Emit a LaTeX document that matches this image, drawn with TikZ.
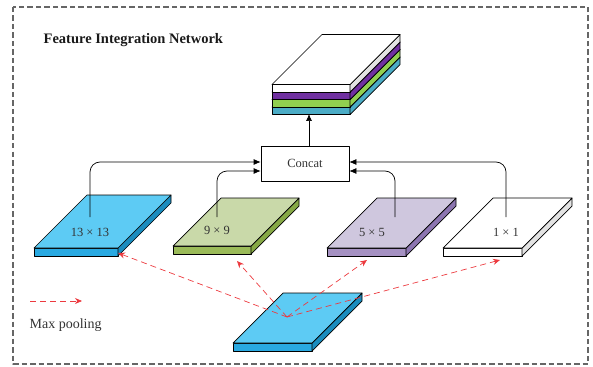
\documentclass[tikz,border=0pt]{standalone}
\usepackage{fontspec}
\setmainfont{Liberation Serif}
\usetikzlibrary{arrows.meta}
\definecolor{bluetop}{HTML}{5DCBF4}
\definecolor{bluefront}{HTML}{29A9E1}
\definecolor{blueside}{HTML}{1A8CBE}
\definecolor{greentop}{HTML}{C9D9A9}
\definecolor{greenfront}{HTML}{9BBB59}
\definecolor{greenside}{HTML}{86A845}
\definecolor{purpletop}{HTML}{CFC7DE}
\definecolor{purplefront}{HTML}{A591C2}
\definecolor{purpleside}{HTML}{8C75B0}
\definecolor{whiteside}{HTML}{E3E3E3}
\definecolor{layerpurple}{HTML}{7030A0}
\definecolor{layergreen}{HTML}{92D050}
\definecolor{layerblue}{HTML}{4BACC6}
\definecolor{poolred}{HTML}{EC3A3F}
% slab: x, y (top of front face), width, depth, thickness, top, front, side
\newcommand{\slab}[8]{%
\filldraw[fill=#7] (#1,#2) rectangle ++(#3,#5);
\filldraw[fill=#8] (#1+#3,#2) -- ++(#4,-#4) -- ++(0,#5) -- ++(-#4,#4) -- cycle;
\filldraw[fill=#6] (#1,#2) -- ++(#4,-#4) -- ++(#3,0) -- ++(-#4,#4) -- cycle;}
\begin{document}
\begin{tikzpicture}[x=1pt,y=-1pt,line join=round,line width=0.7pt,
  flow/.style={-{Latex[length=7pt,width=6pt]},rounded corners=10pt},
  pool/.style={-{Stealth[length=7pt,width=6pt]},draw=poolred,dash pattern=on 6pt off 4pt},
  lbl/.style={font=\fontsize{12.5}{14}\selectfont,text=black!80}]
\useasboundingbox (0,0) rectangle (593,366);
\draw[black!60,line width=1.2pt,dash pattern=on 5.5pt off 3pt] (13,7) rectangle (588,364);
\node[anchor=west,font=\fontsize{14.5}{16}\selectfont\bfseries,text=black!90] (title) at (40,40) {Feature Integration Network};
% feature maps
\slab{34}{248}{84}{53}{8}{bluetop}{bluefront}{blueside}
\slab{173}{246}{78}{48}{8}{greentop}{greenfront}{greenside}
\slab{327}{248}{79}{50}{8}{purpletop}{purplefront}{purpleside}
\slab{443}{248}{79}{50}{8}{white}{white}{whiteside}
\slab{233}{343}{79}{50}{8}{bluetop}{bluefront}{blueside}
% concatenated output
\slab{272}{107}{78}{50}{7.5}{layerblue}{layerblue}{layerblue}
\slab{272}{99.5}{78}{50}{7.5}{layergreen}{layergreen}{layergreen}
\slab{272}{92}{78}{50}{7.5}{layerpurple}{layerpurple}{layerpurple}
\slab{272}{84.5}{78}{50}{7.5}{white}{white}{whiteside}
\node[lbl] (l13) at (90,232) {13 × 13};
\node[lbl] (l9) at (217,230) {9 × 9};
\node[lbl] (l5) at (372,232) {5 × 5};
\node[lbl] (l1) at (506,232) {1 × 1};
\node[draw,lbl,minimum width=88pt,minimum height=35pt] (concat) at (305,163.5) {Concat};
\coordinate (c13) at (90,217);
\coordinate (c9) at (217,217);
\coordinate (c5) at (395,217);
\coordinate (c1) at (506,217);
\coordinate (stk) at (309,114);
\draw[flow] (c13) |- ([yshift=1.5pt]concat.west);
\draw[flow] (c9) |- ([yshift=-7.5pt]concat.west);
\draw[flow] (c5) |- ([yshift=-7.5pt]concat.east);
\draw[flow] (c1) |- ([yshift=1.5pt]concat.east);
\draw[-{Latex[length=7pt,width=6pt]}] (concat.north -| stk) -- (stk);
% max pooling
\coordinate (mp) at (287,317);
\coordinate (t13) at (118,253);
\coordinate (t9) at (237,261);
\coordinate (t5) at (367,260);
\coordinate (t1) at (500,260);
\draw[pool] (mp) -- (t13);
\draw[pool] (mp) -- (t9);
\draw[pool] (mp) -- (t5);
\draw[pool] (mp) -- (t1);
\coordinate (k0) at (30,301);
\coordinate (k1) at (82,301);
\draw[pool] (k0) -- (k1);
\node[anchor=west,font=\fontsize{14}{16}\selectfont,text=black!80] (key) at (26,325) {Max pooling};
\end{tikzpicture}
\end{document}
